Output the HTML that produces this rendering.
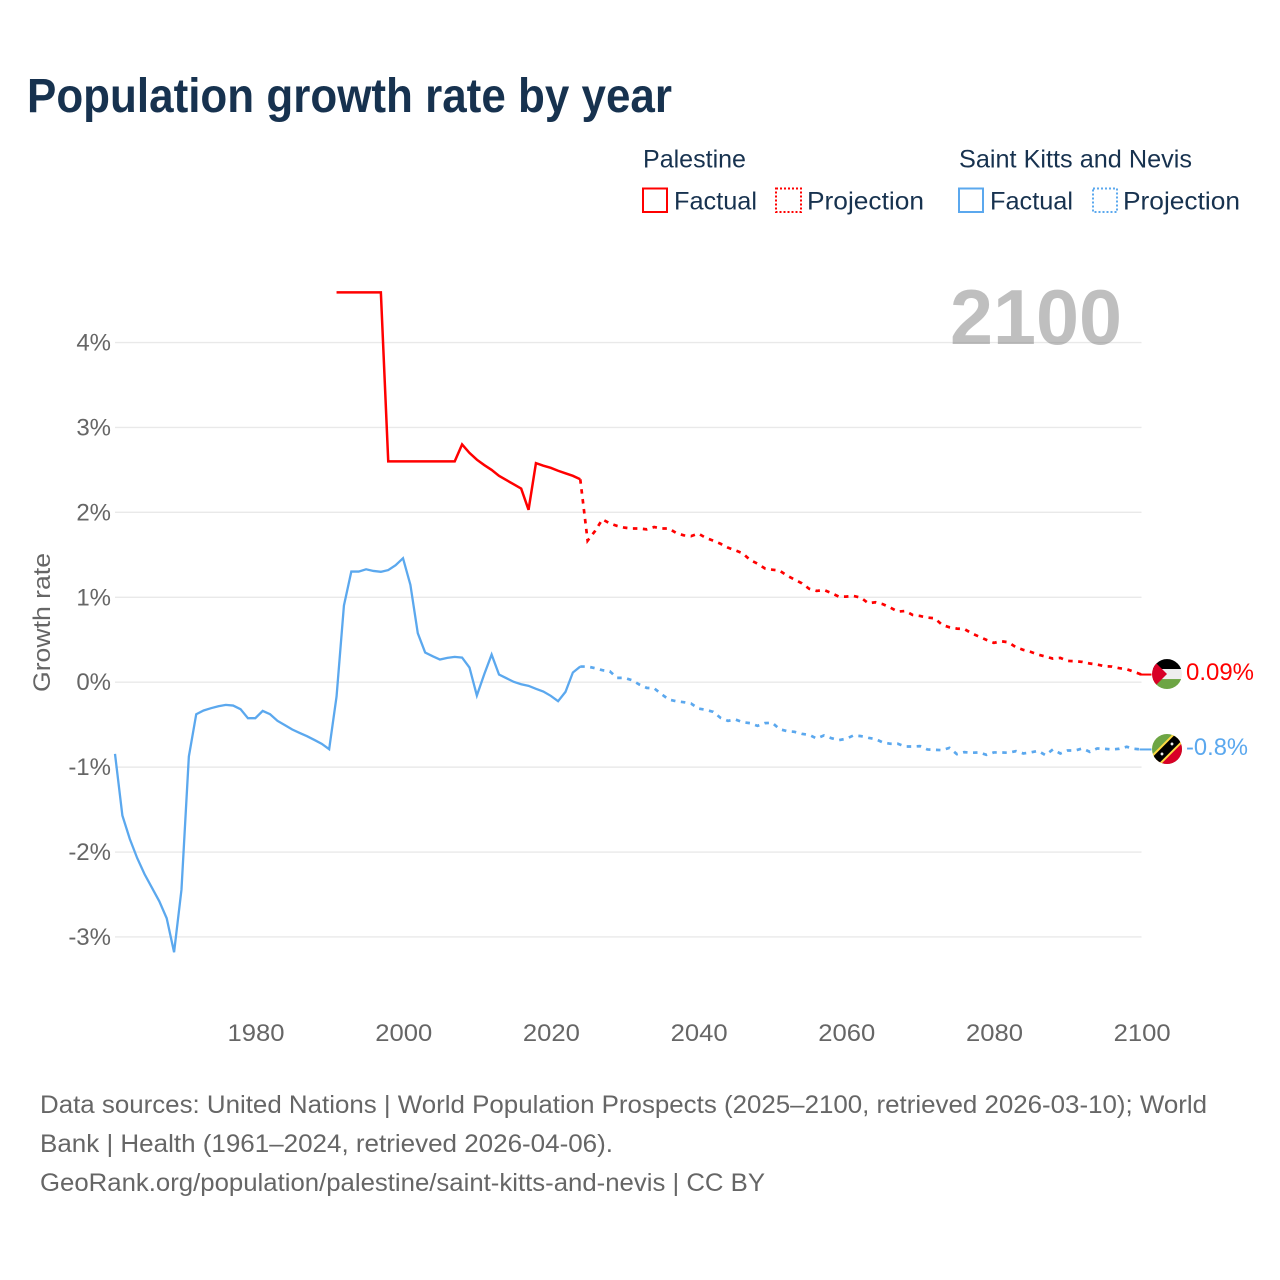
<!DOCTYPE html>
<html lang="en">
<head>
<meta charset="utf-8">
<title>Population growth rate by year</title>
<style>
html,body{margin:0;padding:0;background:#fff;width:1280px;height:1280px;overflow:hidden}
svg{display:block}
text{font-family:"Liberation Sans",sans-serif}
</style>
</head>
<body>
<svg id="chart" xmlns="http://www.w3.org/2000/svg" width="1280" height="1280" viewBox="0 0 1280 1280">
  <defs>
    <clipPath id="clip-ps"><circle cx="0" cy="0" r="15"/></clipPath>
    <clipPath id="clip-kn"><circle cx="0" cy="0" r="15"/></clipPath>
  </defs>
  <rect width="1280" height="1280" fill="#fff"/>
  <text x="27" y="112" font-size="48" font-weight="700" fill="#17324f" textLength="645" lengthAdjust="spacingAndGlyphs">Population growth rate by year</text>

  <g>
    <text x="643" y="167.5" font-size="25" fill="#17324f" textLength="103" lengthAdjust="spacingAndGlyphs">Palestine</text>
    <rect x="643" y="188.5" width="24" height="23.5" fill="none" stroke="#ff0000" stroke-width="2"/>
    <text x="674" y="209.5" font-size="25" fill="#17324f" textLength="83" lengthAdjust="spacingAndGlyphs">Factual</text>
    <rect x="776" y="188.5" width="25" height="23.5" fill="none" stroke="#ff0000" stroke-width="2" stroke-dasharray="2 2"/>
    <text x="807" y="209.5" font-size="25" fill="#17324f" textLength="117" lengthAdjust="spacingAndGlyphs">Projection</text>
    <text x="959" y="167.5" font-size="25" fill="#17324f" textLength="233" lengthAdjust="spacingAndGlyphs">Saint Kitts and Nevis</text>
    <rect x="959" y="188.5" width="24" height="23.5" fill="none" stroke="#5ba8ee" stroke-width="2"/>
    <text x="990" y="209.5" font-size="25" fill="#17324f" textLength="83" lengthAdjust="spacingAndGlyphs">Factual</text>
    <rect x="1093" y="188.5" width="24" height="23.5" fill="none" stroke="#5ba8ee" stroke-width="2" stroke-dasharray="2 2"/>
    <text x="1123" y="209.5" font-size="25" fill="#17324f" textLength="117" lengthAdjust="spacingAndGlyphs">Projection</text>
  </g>

  <g id="grid-layer"></g>
  <g id="y-tick-layer"></g>
  <g id="x-tick-layer"></g>

  <text x="950" y="344" font-size="78" font-weight="700" fill="#808080" fill-opacity="0.5" textLength="172" lengthAdjust="spacingAndGlyphs">2100</text>

  <text transform="translate(50,692) rotate(-90)" font-size="24" fill="#666666" textLength="139" lengthAdjust="spacingAndGlyphs">Growth rate</text>

  <g id="series-layer"></g>

  <g id="flag-ps">
    <g clip-path="url(#clip-ps)">
      <rect x="-15" y="-15" width="30" height="10" fill="#000"/>
      <rect x="-15" y="-5" width="30" height="10" fill="#eeeeee"/>
      <rect x="-15" y="5" width="30" height="10" fill="#6da544"/>
      <polygon points="-15,-15 0,0 -15,15" fill="#d80027"/>
    </g>
  </g>
  <g id="flag-kn">
    <g clip-path="url(#clip-kn)">
      <rect x="-15" y="-15" width="30" height="30" fill="#6da544"/>
      <polygon points="15,-15 15,15 -15,15" fill="#d80027"/>
      <line x1="-15" y1="15" x2="15" y2="-15" stroke="#ffda44" stroke-width="13"/>
      <line x1="-15" y1="15" x2="15" y2="-15" stroke="#000" stroke-width="9"/>
      <circle cx="-5" cy="5" r="1.4" fill="#eee"/>
      <circle cx="5" cy="-5" r="1.4" fill="#eee"/>
    </g>
  </g>
  <text id="value-ps" x="1186" font-size="24" fill="#ff0000" textLength="68" lengthAdjust="spacingAndGlyphs"></text>
  <text id="value-kn" x="1186" font-size="24" fill="#5ba8ee" textLength="62" lengthAdjust="spacingAndGlyphs"></text>

  <g fill="#666666" font-size="25">
    <text x="40" y="1113" textLength="1167" lengthAdjust="spacingAndGlyphs">Data sources: United Nations | World Population Prospects (2025–2100, retrieved 2026-03-10); World</text>
    <text x="40" y="1152" textLength="573" lengthAdjust="spacingAndGlyphs">Bank | Health (1961–2024, retrieved 2026-04-06).</text>
    <text x="40" y="1191" textLength="725" lengthAdjust="spacingAndGlyphs">GeoRank.org/population/palestine/saint-kitts-and-nevis | CC BY</text>
  </g>
</svg>

<script>
const xTickYears = [1980, 2000, 2020, 2040, 2060, 2080, 2100];
const yTickValues = [4, 3, 2, 1, 0, -1, -2, -3];
const yTickLabels = ["4%", "3%", "2%", "1%", "0%", "-1%", "-2%", "-3%"];
const palestineFactualStart = 1991;
const palestineFactual = [4.59,4.59,4.59,4.59,4.59,4.59,4.59,2.6,2.6,2.6,2.6,2.6,2.6,2.6,2.6,2.6,2.6,2.8,2.7,2.62,2.557,2.5,2.43,2.38,2.33,2.28,2.03,2.58,2.55,2.525,2.49,2.46,2.43,2.39];
const kittsFactualStart = 1961;
const kittsFactual = [-0.844,-1.57,-1.845,-2.07,-2.26,-2.42,-2.58,-2.78,-3.18,-2.445,-0.875,-0.377,-0.333,-0.306,-0.283,-0.267,-0.275,-0.318,-0.424,-0.424,-0.338,-0.377,-0.455,-0.506,-0.557,-0.597,-0.636,-0.68,-0.726,-0.789,-0.169,0.903,1.303,1.303,1.33,1.31,1.3,1.32,1.378,1.46,1.146,0.577,0.349,0.306,0.267,0.286,0.298,0.29,0.173,-0.157,0.094,0.325,0.09,0.047,0.004,-0.024,-0.043,-0.078,-0.11,-0.16,-0.224,-0.114,0.114,0.184];
const projectionStart = 2024;
const palestineProjection = [2.39,1.667,1.78,1.918,1.87,1.84,1.82,1.81,1.81,1.8,1.827,1.81,1.81,1.757,1.73,1.72,1.75,1.7,1.667,1.63,1.584,1.553,1.518,1.44,1.396,1.34,1.325,1.314,1.255,1.21,1.165,1.1,1.075,1.086,1.05,1.008,1.008,1.016,0.996,0.93,0.941,0.918,0.878,0.831,0.839,0.792,0.78,0.761,0.753,0.675,0.647,0.631,0.627,0.576,0.537,0.498,0.463,0.482,0.47,0.412,0.38,0.357,0.325,0.302,0.278,0.286,0.251,0.247,0.239,0.22,0.208,0.188,0.184,0.165,0.153,0.122,0.09];
const kittsProjection = [0.184,0.184,0.165,0.141,0.129,0.051,0.051,0.024,-0.027,-0.067,-0.071,-0.141,-0.204,-0.224,-0.235,-0.251,-0.31,-0.325,-0.349,-0.42,-0.455,-0.439,-0.471,-0.482,-0.514,-0.482,-0.478,-0.553,-0.576,-0.584,-0.608,-0.62,-0.663,-0.627,-0.659,-0.682,-0.667,-0.627,-0.635,-0.655,-0.67,-0.71,-0.725,-0.725,-0.757,-0.757,-0.753,-0.792,-0.796,-0.8,-0.773,-0.847,-0.824,-0.831,-0.827,-0.855,-0.827,-0.827,-0.831,-0.812,-0.839,-0.827,-0.808,-0.859,-0.792,-0.839,-0.804,-0.804,-0.78,-0.82,-0.78,-0.784,-0.792,-0.784,-0.761,-0.784,-0.792];
const palestineEndLabel = "0.09%";
const kittsEndLabel = "-0.8%";

const SVG_NS = "http://www.w3.org/2000/svg";
const X_LEFT = 115, X_RIGHT = 1141.5, YEAR_LEFT = 1961, YEAR_RIGHT = 2100;
const Y_ZERO = 682.2, Y_PER_UNIT = 84.92;
function xScale(year) { return X_LEFT + (year - YEAR_LEFT) * (X_RIGHT - X_LEFT) / (YEAR_RIGHT - YEAR_LEFT); }
function yScale(value) { return Y_ZERO - value * Y_PER_UNIT; }
function pathFrom(startYear, values) {
  return values.map(function (v, i) {
    return (i ? "L" : "M") + xScale(startYear + i).toFixed(2) + " " + yScale(v).toFixed(2);
  }).join("");
}

const gridLayer = document.getElementById("grid-layer");
const yTickLayer = document.getElementById("y-tick-layer");
const xTickLayer = document.getElementById("x-tick-layer");
const seriesLayer = document.getElementById("series-layer");

yTickValues.forEach(function (v, i) {
  const line = document.createElementNS(SVG_NS, "line");
  line.setAttribute("x1", X_LEFT);
  line.setAttribute("x2", X_RIGHT);
  line.setAttribute("y1", yScale(v));
  line.setAttribute("y2", yScale(v));
  line.setAttribute("stroke", "#e9e9e9");
  line.setAttribute("stroke-width", "1.4");
  
  
  gridLayer.appendChild(line);

  const label = document.createElementNS(SVG_NS, "text");
  label.textContent = yTickLabels[i];
  label.setAttribute("x", 111);
  label.setAttribute("y", yScale(v) + 8);
  label.setAttribute("text-anchor", "end");
  label.setAttribute("font-size", "24");
  label.setAttribute("fill", "#666666");
  
  
  yTickLayer.appendChild(label);
});

xTickYears.forEach(function (year) {
  const label = document.createElementNS(SVG_NS, "text");
  label.textContent = String(year);
  label.setAttribute("x", xScale(year) + 0.7);
  label.setAttribute("y", 1041);
  label.setAttribute("text-anchor", "middle");
  label.setAttribute("font-size", "24");
  label.setAttribute("textLength", "57");
  label.setAttribute("lengthAdjust", "spacingAndGlyphs");
  label.setAttribute("fill", "#666666");
  
  
  xTickLayer.appendChild(label);
});

function endConnector(values, colour) {
  const line = document.createElementNS(SVG_NS, "line");
  const yEnd = yScale(values[values.length - 1]);
  line.setAttribute("x1", X_RIGHT - 2);
  line.setAttribute("x2", X_RIGHT + 10);
  line.setAttribute("y1", yEnd);
  line.setAttribute("y2", yEnd);
  line.setAttribute("stroke", colour);
  line.setAttribute("stroke-width", "2");
  
  
  seriesLayer.appendChild(line);
}

const palestineFactualPath = document.createElementNS(SVG_NS, "path");
palestineFactualPath.setAttribute("d", pathFrom(palestineFactualStart, palestineFactual));
palestineFactualPath.setAttribute("fill", "none");
palestineFactualPath.setAttribute("stroke", "#ff0000");
palestineFactualPath.setAttribute("stroke-width", "2.5");


seriesLayer.appendChild(palestineFactualPath);

const palestineProjectionPath = document.createElementNS(SVG_NS, "path");
palestineProjectionPath.setAttribute("d", pathFrom(projectionStart, palestineProjection));
palestineProjectionPath.setAttribute("fill", "none");
palestineProjectionPath.setAttribute("stroke", "#ff0000");
palestineProjectionPath.setAttribute("stroke-width", "2.7");
palestineProjectionPath.setAttribute("stroke-dasharray", "4.5 5.5");


seriesLayer.appendChild(palestineProjectionPath);

const kittsFactualPath = document.createElementNS(SVG_NS, "path");
kittsFactualPath.setAttribute("d", pathFrom(kittsFactualStart, kittsFactual));
kittsFactualPath.setAttribute("fill", "none");
kittsFactualPath.setAttribute("stroke", "#5ba8ee");
kittsFactualPath.setAttribute("stroke-width", "2.3");


seriesLayer.appendChild(kittsFactualPath);

const kittsProjectionPath = document.createElementNS(SVG_NS, "path");
kittsProjectionPath.setAttribute("d", pathFrom(projectionStart, kittsProjection));
kittsProjectionPath.setAttribute("fill", "none");
kittsProjectionPath.setAttribute("stroke", "#5ba8ee");
kittsProjectionPath.setAttribute("stroke-width", "2.7");
kittsProjectionPath.setAttribute("stroke-dasharray", "4.5 5.5");


seriesLayer.appendChild(kittsProjectionPath);

endConnector(palestineProjection, "#ff0000");
endConnector(kittsProjection, "#5ba8ee");

const psY = yScale(palestineProjection[palestineProjection.length - 1]);
const knY = yScale(kittsProjection[kittsProjection.length - 1]);
document.getElementById("flag-ps").setAttribute("transform", "translate(1167," + (psY - 0.5) + ")");
document.getElementById("flag-kn").setAttribute("transform", "translate(1167," + (knY - 0.5) + ")");
const psValue = document.getElementById("value-ps");
psValue.textContent = palestineEndLabel;
psValue.setAttribute("y", psY + 5.5);
const knValue = document.getElementById("value-kn");
knValue.textContent = kittsEndLabel;
knValue.setAttribute("y", knY + 5.5);
</script>
</body>
</html>
